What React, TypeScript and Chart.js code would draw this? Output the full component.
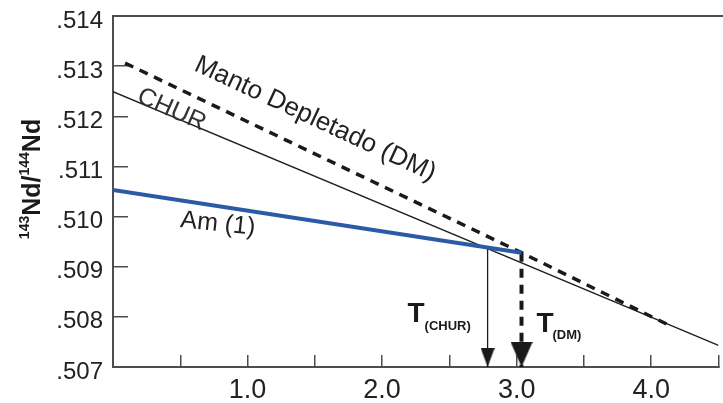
import React, { useEffect, useRef } from 'react';
import { Chart, registerables } from 'chart.js';

Chart.register(...registerables);

// ---- data ----
const ageTicks = [0, 0.5, 1, 1.5, 2, 2.5, 3, 3.5, 4, 4.5];
const labeledAges = [1, 2, 3, 4];
const ndTicks = [0.507, 0.508, 0.509, 0.51, 0.511, 0.512, 0.513, 0.514];

const churAge = [0, 4.5];
const churNd = [0.51249, 0.50743];

const dmAge = [0.09, 3.036, 4.157];
const dmNd = [0.51306, 0.50928, 0.5078];

const amAge = [0, 3.036];
const amNd = [0.51053, 0.50928];

const tChurAge = [2.784, 2.784];
const tChurNd = [0.50938, 0.507];

const tDmAge = [3.036, 3.036];
const tDmNd = [0.50928, 0.507];

const FONT = "'Liberation Sans', Arial, Helvetica, sans-serif";

function pts(xs: number[], ys: number[]) {
  return xs.map((x, i) => ({ x, y: ys[i] }));
}

function makeArrow(w: number, h: number, color: string) {
  const c = document.createElement('canvas');
  c.width = w;
  c.height = 2 * h;
  const g = c.getContext('2d')!;
  g.fillStyle = color;
  g.beginPath();
  g.moveTo(0, 0);
  g.lineTo(w, 0);
  g.lineTo(w / 2, h);
  g.closePath();
  g.fill();
  return c;
}

function rotText(ctx: CanvasRenderingContext2D, text: string, px: number, py: number, deg: number, font: string, color: string) {
  ctx.save();
  ctx.translate(px, py);
  ctx.rotate((deg * Math.PI) / 180);
  ctx.font = font;
  ctx.fillStyle = color;
  ctx.textAlign = 'left';
  ctx.textBaseline = 'alphabetic';
  ctx.fillText(text, 0, 0);
  ctx.restore();
}

function zeroPad(s: any) {
  s.paddingTop = 0;
  s.paddingBottom = 0;
  s.paddingLeft = 0;
  s.paddingRight = 0;
}

const annotations = {
  id: 'annotations',
  afterDraw(chart: any) {
    const { ctx, chartArea, scales } = chart;
    const xs = scales.x;
    const ys = scales.y;
    ctx.save();
    // top frame line
    ctx.strokeStyle = '#4d4d4d';
    ctx.lineWidth = 2;
    ctx.beginPath();
    ctx.moveTo(chartArea.left - 1, chartArea.top);
    ctx.lineTo(chart.width, chartArea.top);
    ctx.stroke();

    // line labels
    rotText(ctx, 'CHUR', xs.getPixelForValue(0.1685), ys.getPixelForValue(0.512293), 24, `25px ${FONT}`, '#333');
    rotText(ctx, 'Manto Depletado (DM)', xs.getPixelForValue(0.594), ys.getPixelForValue(0.512924), 25, `26px ${FONT}`, '#222');
    rotText(ctx, 'Am (1)', xs.getPixelForValue(0.497), ys.getPixelForValue(0.509791), 6, `25px ${FONT}`, '#222');

    // model ages
    const xc = xs.getPixelForValue(tChurAge[0]);
    const xd = xs.getPixelForValue(tDmAge[0]);
    const b = chartArea.bottom;
    ctx.fillStyle = '#1a1a1a';
    ctx.textAlign = 'left';
    ctx.textBaseline = 'alphabetic';
    ctx.font = `bold 28px ${FONT}`;
    ctx.fillText('T', xc - 80, b - 45);
    ctx.fillText('T', xd + 15, b - 35);
    ctx.font = `bold 13px ${FONT}`;
    ctx.fillText('(CHUR)', xc - 63, b - 37.5);
    ctx.fillText('(DM)', xd + 31, b - 28);

    // y-axis title 143Nd/144Nd
    const parts: [string, boolean][] = [['143', true], ['Nd', false], ['/', false], ['144', true], ['Nd', false]];
    const mainF = `bold 25px ${FONT}`;
    const supF = `bold 14px ${FONT}`;
    let total = 0;
    for (const [t, s] of parts) {
      ctx.font = s ? supF : mainF;
      total += ctx.measureText(t).width;
    }
    ctx.save();
    ctx.translate(40, 179);
    ctx.rotate(-Math.PI / 2);
    let cx = -total / 2;
    ctx.fillStyle = '#1a1a1a';
    for (const [t, s] of parts) {
      ctx.font = s ? supF : mainF;
      ctx.fillText(t, cx, s ? -11 : 0);
      cx += ctx.measureText(t).width;
    }
    ctx.restore();
    ctx.restore();
  },
};

export default function App() {
  const ref = useRef<HTMLCanvasElement>(null);

  useEffect(() => {
    const smallArrow = makeArrow(14, 19, '#1a1a1a');
    const bigArrow = makeArrow(22, 25, '#1a1a1a');
    const arrowPoint = (img: HTMLCanvasElement) => ({
      pointStyle: (c: any) => (c.dataIndex === 1 ? img : 'circle'),
      pointRadius: (c: any) => (c.dataIndex === 1 ? 6 : 0),
      pointHoverRadius: 0,
    });

    const chart = new Chart(ref.current!, {
      type: 'line',
      data: {
        datasets: [
          {
            label: 'Am (1)',
            data: pts(amAge, amNd),
            borderColor: '#2d5aa6',
            borderWidth: 4,
            pointRadius: 0,
          },
          {
            label: 'T(DM)',
            data: pts(tDmAge, tDmNd),
            borderColor: '#1a1a1a',
            borderWidth: 4,
            borderDash: [9, 7],
            ...arrowPoint(bigArrow),
          },
          {
            label: 'T(CHUR)',
            data: pts(tChurAge, tChurNd),
            borderColor: '#1a1a1a',
            borderWidth: 1.3,
            ...arrowPoint(smallArrow),
          },
          {
            label: 'DM',
            data: pts(dmAge, dmNd),
            borderColor: '#1a1a1a',
            borderWidth: 3.5,
            borderDash: [9, 7],
            pointRadius: 0,
          },
          {
            label: 'CHUR',
            data: pts(churAge, churNd),
            borderColor: '#1e1e1e',
            borderWidth: 1.3,
            pointRadius: 0,
          },
        ],
      } as any,
      options: {
        animation: false,
        responsive: false,
        layout: { autoPadding: false, padding: { left: 0, top: 16, right: 4.5, bottom: 0 } },
        plugins: { legend: { display: false }, tooltip: { enabled: false } },
        elements: { line: { tension: 0, borderCapStyle: 'butt' } },
        scales: {
          x: {
            type: 'linear',
            min: 0,
            max: 4.5,
            afterBuildTicks: (s: any) => {
              s.ticks = ageTicks.map((v) => ({ value: v }));
            },
            afterFit: (s: any) => {
              s.height = 36;
              zeroPad(s);
            },
            ticks: {
              autoSkip: false,
              maxRotation: 0,
              padding: 19,
              color: '#222',
              font: { family: FONT, size: 27 },
              callback: (v: any) => (labeledAges.includes(Number(v)) ? Number(v).toFixed(1) : ''),
            },
            grid: { drawOnChartArea: false, drawTicks: true, tickLength: -12, color: '#4d4d4d', lineWidth: 1.5 },
            border: { display: true, color: '#4d4d4d', width: 2 },
          },
          y: {
            type: 'linear',
            min: 0.507,
            max: 0.514,
            afterBuildTicks: (s: any) => {
              s.ticks = ndTicks.map((v) => ({ value: v }));
            },
            afterFit: (s: any) => {
              s.width = 113;
              zeroPad(s);
            },
            ticks: {
              autoSkip: false,
              padding: 25,
              labelOffset: 5,
              color: '#222',
              font: { family: FONT, size: 24 },
              callback: (v: any) => Number(v).toFixed(3).replace(/^0/, ''),
            },
            grid: { drawOnChartArea: false, drawTicks: true, tickLength: -15, color: '#4d4d4d', lineWidth: 1.5 },
            border: { display: true, color: '#4d4d4d', width: 2 },
          },
        },
      } as any,
      plugins: [annotations],
    });
    return () => chart.destroy();
  }, []);

  return (
    <div style={{ position: 'fixed', left: 0, top: 0, width: 723, height: 403, background: '#fff' }}>
      <canvas ref={ref} width={723} height={403} style={{ display: 'block' }} />
    </div>
  );
}
